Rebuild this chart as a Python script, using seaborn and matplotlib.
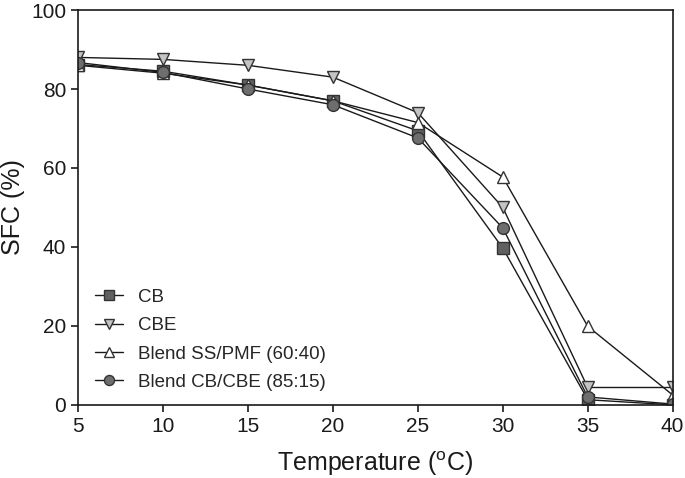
import pandas as pd
import seaborn as sns
import matplotlib.pyplot as plt

temps = [5, 10, 15, 20, 25, 30, 35, 40]
cb = [86.2, 84.5, 81.0, 77.0, 69.4, 39.7, 1.3, 0.0]
cbe = [88.0, 87.5, 86.0, 83.0, 74.0, 50.0, 4.4, 4.4]
ss_pmf = [86.0, 84.0, 81.0, 77.0, 71.5, 57.7, 19.9, 2.5]
cb_cbe = [86.7, 84.2, 80.0, 76.0, 67.6, 44.8, 2.0, 0.2]

names = ['CB', 'CBE', 'Blend SS/PMF (60:40)', 'Blend CB/CBE (85:15)']
series = [cb, cbe, ss_pmf, cb_cbe]
markers = ['s', 'v', '^', 'o']
fills = ['#606060', '#c4c4c4', '#ffffff', '#6e6e6e']

rows = []
for n, vals in zip(names, series):
    for t, v in zip(temps, vals):
        rows.append({'Temperature': t, 'SFC': v, 'Sample': n})
df = pd.DataFrame(rows)

sns.set_theme(style='ticks')
plt.rcParams['font.family'] = ['Liberation Sans', 'DejaVu Sans']
plt.rcParams['mathtext.fontset'] = 'custom'
plt.rcParams['mathtext.rm'] = 'Liberation Sans'

fig = plt.figure(figsize=(6.85, 4.78), dpi=100)
ax = fig.add_axes([0.114, 0.153, 0.868, 0.826])

for n, m, c in zip(names, markers, fills):
    sns.lineplot(data=df[df['Sample'] == n], x='Temperature', y='SFC', ax=ax,
                 color='#1a1a1a', linewidth=1.0, marker=m, markersize=8.5,
                 markerfacecolor=c, markeredgecolor='#333333', markeredgewidth=1.0,
                 label=n)

ax.set_xlim(5, 40)
ax.set_ylim(0, 100)
ax.set_xticks(temps)
ax.set_yticks([0, 20, 40, 60, 80, 100])
ax.tick_params(labelsize=15, length=5, width=1.2, color='#1a1a1a', labelcolor='#1a1a1a')
for s in ax.spines.values():
    s.set_linewidth(1.2)
    s.set_color('#1a1a1a')
ax.set_xlabel(r'Temperature ($^{\mathrm{o}}$C)', fontsize=18, color='#1a1a1a', labelpad=10)
ax.set_ylabel('SFC (%)', fontsize=18, color='#1a1a1a')
ax.yaxis.set_label_coords(-0.089, 0.5)

leg = ax.legend(loc='lower left', bbox_to_anchor=(0.029, 0.035), frameon=False,
                fontsize=13.5, handlelength=1.45, handletextpad=0.8,
                labelspacing=0.6, borderpad=0, borderaxespad=0, markerscale=0.85)

fig.savefig('out.png', dpi=100)
